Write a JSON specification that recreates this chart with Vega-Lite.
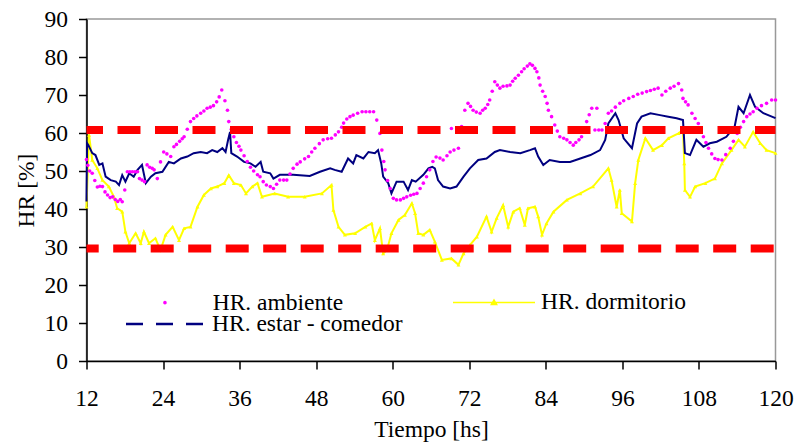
{
  "$schema": "https://vega.github.io/schema/vega-lite/v6.json",
  "width": 689,
  "height": 342,
  "autosize": {"type": "none"},
  "padding": {"left": 86.5, "top": 19, "right": 19.5, "bottom": 83},
  "background": "white",
  "config": {
    "font": "Liberation Serif",
    "view": {"stroke": "#999999", "strokeWidth": 1.5},
    "axis": {
      "grid": false,
      "domainColor": "black",
      "tickColor": "black",
      "labelColor": "black",
      "titleColor": "black",
      "labelFont": "Liberation Serif",
      "titleFont": "Liberation Serif",
      "labelFontSize": 23.5,
      "titleFontSize": 23.5,
      "titleFontWeight": "normal",
      "tickSize": 8,
      "domainWidth": 1.5,
      "tickWidth": 1.5
    },
    "legend": {
      "labelFont": "Liberation Serif",
      "labelFontSize": 23.5,
      "labelColor": "black",
      "labelLimit": 0,
      "padding": 0,
      "title": null
    }
  },
  "datasets": {
    "amb": [
      {"h":12,"v":53},{"h":12.2,"v":51.5},{"h":12.5,"v":50},{"h":12.9,"v":49.4},{"h":13.3,"v":47.5},{"h":13.7,"v":45.8},{"h":14.1,"v":46},{"h":14.5,"v":45.9},{"h":14.9,"v":44.5},{"h":15.3,"v":43.7},{"h":15.7,"v":43},{"h":16.1,"v":43.2},{"h":16.5,"v":42.5},{"h":16.9,"v":42},{"h":17.3,"v":42.5},{"h":17.6,"v":41.9},{"h":18,"v":45},{"h":18.4,"v":49.8},{"h":18.8,"v":49.8},{"h":19.2,"v":49.8},{"h":19.6,"v":49.8},{"h":20,"v":49.8},{"h":20.3,"v":48},{"h":20.7,"v":47.6},{"h":21.1,"v":47.2},{"h":21.5,"v":51.6},{"h":21.9,"v":51},{"h":22.3,"v":50.7},{"h":22.6,"v":50.3},{"h":23.1,"v":48},{"h":23.6,"v":52.4},{"h":24.1,"v":55},{"h":24.6,"v":54.5},{"h":25.2,"v":53.8},{"h":25.7,"v":56.4},{"h":26.1,"v":57},{"h":26.6,"v":57.8},{"h":27,"v":58.5},{"h":27.3,"v":59},{"h":27.8,"v":61},{"h":28.3,"v":63},{"h":28.8,"v":63.8},{"h":29.3,"v":64.5},{"h":29.9,"v":65.2},{"h":30.4,"v":65.8},{"h":30.9,"v":66.5},{"h":31.4,"v":66.8},{"h":31.9,"v":67.2},{"h":32.4,"v":68.2},{"h":32.8,"v":69.5},{"h":33.2,"v":71.3},{"h":33.7,"v":68.5},{"h":34.1,"v":66},{"h":34.3,"v":63},{"h":34.7,"v":61},{"h":35.1,"v":59},{"h":35.5,"v":57.5},{"h":35.9,"v":56.5},{"h":36.2,"v":55.5},{"h":36.7,"v":54},{"h":37.2,"v":52.5},{"h":37.7,"v":51},{"h":38.2,"v":50},{"h":38.8,"v":49},{"h":39.2,"v":48.5},{"h":39.7,"v":47.2},{"h":40.2,"v":46.3},{"h":40.8,"v":45.9},{"h":41.3,"v":45.4},{"h":41.8,"v":46.5},{"h":42.3,"v":47.6},{"h":42.9,"v":47.6},{"h":43.4,"v":47.6},{"h":43.9,"v":49.2},{"h":44.4,"v":50.7},{"h":45,"v":51.8},{"h":45.5,"v":52.4},{"h":46.2,"v":53.2},{"h":46.8,"v":53.8},{"h":47.3,"v":55},{"h":47.8,"v":56},{"h":48.5,"v":57.2},{"h":49.1,"v":58.2},{"h":49.8,"v":58.5},{"h":50.4,"v":58.6},{"h":51,"v":59.5},{"h":51.5,"v":60.3},{"h":52,"v":61.5},{"h":52.3,"v":62.6},{"h":52.8,"v":63.7},{"h":53.3,"v":64.3},{"h":53.8,"v":64.7},{"h":54.5,"v":65.2},{"h":55.2,"v":65.6},{"h":55.8,"v":65.6},{"h":56.4,"v":65.6},{"h":57,"v":65.6},{"h":57.5,"v":63.4},{"h":58,"v":59.9},{"h":58.3,"v":55.5},{"h":58.6,"v":52.5},{"h":58.8,"v":50.3},{"h":59.2,"v":47.5},{"h":59.6,"v":45.4},{"h":60.1,"v":42.8},{"h":60.6,"v":42.4},{"h":61.2,"v":42.4},{"h":61.7,"v":42.8},{"h":62.2,"v":43.2},{"h":62.8,"v":43.6},{"h":63.3,"v":43.9},{"h":63.8,"v":44.1},{"h":64.3,"v":45.4},{"h":64.8,"v":46.8},{"h":65.3,"v":48.5},{"h":65.8,"v":50.3},{"h":66.3,"v":52.5},{"h":66.8,"v":53.7},{"h":67.4,"v":53.4},{"h":67.9,"v":52.9},{"h":68.5,"v":54},{"h":69,"v":55},{"h":69.2,"v":61.2},{"h":69.6,"v":55.5},{"h":70.3,"v":56},{"h":70.8,"v":61.7},{"h":71.3,"v":66},{"h":71.8,"v":67.8},{"h":72.2,"v":67},{"h":72.6,"v":66},{"h":73.1,"v":65.5},{"h":73.7,"v":65.2},{"h":74.1,"v":66},{"h":74.5,"v":66.5},{"h":74.9,"v":67.5},{"h":75.2,"v":68.7},{"h":75.6,"v":71},{"h":76,"v":73.5},{"h":76.4,"v":72.6},{"h":76.8,"v":71.8},{"h":77.3,"v":72.3},{"h":77.9,"v":72.4},{"h":78.4,"v":72.6},{"h":78.8,"v":73.6},{"h":79.2,"v":74.4},{"h":79.7,"v":75.2},{"h":80.2,"v":76.1},{"h":80.6,"v":76.9},{"h":81.1,"v":77.6},{"h":81.5,"v":78.2},{"h":81.9,"v":77.8},{"h":82.3,"v":77},{"h":82.6,"v":76.1},{"h":82.9,"v":74.5},{"h":83.1,"v":72.6},{"h":83.5,"v":71},{"h":83.9,"v":69.6},{"h":84.2,"v":67.8},{"h":84.4,"v":66},{"h":84.9,"v":64.3},{"h":85.4,"v":62.1},{"h":85.8,"v":60.5},{"h":86.2,"v":59},{"h":86.8,"v":58.6},{"h":87.3,"v":58.2},{"h":87.8,"v":57.5},{"h":88.3,"v":56.8},{"h":88.7,"v":57.5},{"h":89.2,"v":58.2},{"h":89.6,"v":59},{"h":90,"v":61},{"h":90.4,"v":63},{"h":90.8,"v":64.8},{"h":91.2,"v":66.5},{"h":91.7,"v":60.8},{"h":92,"v":66.5},{"h":92.3,"v":60.8},{"h":92.8,"v":60.8},{"h":93.3,"v":62.5},{"h":93.8,"v":65.2},{"h":94.3,"v":65.8},{"h":94.9,"v":66.8},{"h":95.6,"v":67.8},{"h":96.2,"v":68.5},{"h":97,"v":69.1},{"h":97.7,"v":69.6},{"h":98.4,"v":70.2},{"h":99.1,"v":70.5},{"h":99.8,"v":70.9},{"h":100.4,"v":71.2},{"h":101,"v":71.5},{"h":101.6,"v":71.8},{"h":102.2,"v":70},{"h":102.8,"v":71},{"h":103.5,"v":71.8},{"h":104.1,"v":72.3},{"h":104.8,"v":73},{"h":105.3,"v":71.3},{"h":105.5,"v":69.1},{"h":105.9,"v":68.2},{"h":106.3,"v":67.4},{"h":106.9,"v":65.2},{"h":107.4,"v":63.8},{"h":107.9,"v":62.5},{"h":108.3,"v":60.8},{"h":108.7,"v":59},{"h":109.1,"v":57.5},{"h":109.5,"v":56},{"h":110,"v":54.5},{"h":110.5,"v":53.3},{"h":111,"v":53},{"h":111.6,"v":52.9},{"h":112.2,"v":54.3},{"h":112.9,"v":56},{"h":113.4,"v":57.8},{"h":114,"v":59.9},{"h":114.5,"v":61.5},{"h":115,"v":63},{"h":115.5,"v":64.3},{"h":116,"v":65},{"h":116.5,"v":65.6},{"h":117.1,"v":66.5},{"h":117.8,"v":67.2},{"h":118.6,"v":67.8},{"h":119.4,"v":68.7},{"h":120,"v":68.7}
    ],
    "est": [
      {"h":12,"v":42},{"h":12.05,"v":50},{"h":12.1,"v":57.3},{"h":12.3,"v":56.8},{"h":12.9,"v":54.7},{"h":13.4,"v":54.2},{"h":14,"v":51.6},{"h":14.5,"v":52},{"h":15,"v":48.5},{"h":15.8,"v":47.6},{"h":16.6,"v":47.2},{"h":17.1,"v":46.3},{"h":17.6,"v":48.9},{"h":18.1,"v":47.2},{"h":18.7,"v":49.4},{"h":19.4,"v":48.5},{"h":20,"v":50.3},{"h":20.7,"v":51.6},{"h":21.3,"v":46.8},{"h":22.1,"v":48.5},{"h":22.8,"v":49.4},{"h":23.9,"v":49.8},{"h":24.9,"v":52.4},{"h":25.7,"v":52},{"h":26.8,"v":53.3},{"h":27.8,"v":53.8},{"h":28.8,"v":54.7},{"h":29.9,"v":55},{"h":30.9,"v":54.7},{"h":31.7,"v":55.5},{"h":32.5,"v":55},{"h":33.3,"v":56},{"h":33.8,"v":55},{"h":34.2,"v":58.2},{"h":34.5,"v":60.3},{"h":34.7,"v":54.7},{"h":35.6,"v":53.8},{"h":36.7,"v":52.4},{"h":37.7,"v":52},{"h":38.5,"v":51.1},{"h":39.3,"v":52.4},{"h":39.7,"v":49.8},{"h":40.8,"v":49.4},{"h":41.3,"v":48},{"h":42.3,"v":49},{"h":44.4,"v":49},{"h":47,"v":48.7},{"h":48.6,"v":49.8},{"h":50.2,"v":50.7},{"h":50.9,"v":50.3},{"h":52,"v":49.8},{"h":53,"v":53.3},{"h":53.8,"v":52},{"h":54.3,"v":54.2},{"h":55.4,"v":53.3},{"h":56.2,"v":55},{"h":57.2,"v":54.7},{"h":57.7,"v":55.5},{"h":58.2,"v":52},{"h":58.5,"v":48.5},{"h":59.3,"v":46.8},{"h":59.8,"v":44.1},{"h":60.6,"v":47.2},{"h":61.7,"v":47.2},{"h":62.4,"v":45},{"h":63,"v":47.6},{"h":63.6,"v":47.2},{"h":64.8,"v":49},{"h":65.6,"v":50.7},{"h":66.2,"v":51.1},{"h":66.6,"v":50.7},{"h":67.1,"v":47.6},{"h":67.9,"v":45.9},{"h":69,"v":45.4},{"h":70,"v":45.9},{"h":71.1,"v":48.5},{"h":72.1,"v":50.7},{"h":73.4,"v":52.9},{"h":74.7,"v":53.3},{"h":76,"v":55},{"h":76.8,"v":55.5},{"h":78.4,"v":55},{"h":80,"v":54.7},{"h":81.5,"v":55.5},{"h":82.3,"v":56},{"h":82.8,"v":53.8},{"h":83.6,"v":51.6},{"h":84.6,"v":52.9},{"h":86.2,"v":52.4},{"h":87.8,"v":52.4},{"h":89.4,"v":53.3},{"h":91,"v":54.2},{"h":92.5,"v":55.5},{"h":93.3,"v":58.2},{"h":93.8,"v":62.5},{"h":94.9,"v":65.2},{"h":95.4,"v":63.4},{"h":96.2,"v":58.6},{"h":97.5,"v":56},{"h":98.3,"v":62.5},{"h":99,"v":64.3},{"h":100.4,"v":65.2},{"h":101.9,"v":64.7},{"h":103.2,"v":64.3},{"h":104.5,"v":63.9},{"h":105.5,"v":63.4},{"h":105.8,"v":54.7},{"h":106.6,"v":54.2},{"h":107.6,"v":58.2},{"h":108.7,"v":56.4},{"h":109.7,"v":57.3},{"h":110.8,"v":57.7},{"h":112.3,"v":59},{"h":113.6,"v":61.7},{"h":114.2,"v":66.9},{"h":115,"v":65.2},{"h":116,"v":70},{"h":116.8,"v":66.9},{"h":118.1,"v":65.2},{"h":120,"v":63.9}
    ],
    "dor": [
      {"h":12,"v":40.6},{"h":12.4,"v":59.5},{"h":12.9,"v":52.9},{"h":13.7,"v":50.7},{"h":14.5,"v":47.6},{"h":15.5,"v":45.9},{"h":16.3,"v":43.2},{"h":16.8,"v":40.2},{"h":17.6,"v":39.3},{"h":18.1,"v":34},{"h":18.7,"v":31},{"h":19.7,"v":33.6},{"h":20.5,"v":31},{"h":21,"v":34},{"h":21.8,"v":31},{"h":22.8,"v":32.3},{"h":23.6,"v":29.2},{"h":24.4,"v":33.2},{"h":25.5,"v":35.3},{"h":26.5,"v":31.8},{"h":27.3,"v":34.9},{"h":28.3,"v":35.3},{"h":29.4,"v":40.6},{"h":30.4,"v":43.7},{"h":31.5,"v":45.4},{"h":32.5,"v":45.9},{"h":33.6,"v":46.8},{"h":34.3,"v":48.9},{"h":35.1,"v":46.8},{"h":36.2,"v":46.3},{"h":37,"v":44.1},{"h":38,"v":45.9},{"h":38.8,"v":46.8},{"h":39.5,"v":43.2},{"h":41.5,"v":44.1},{"h":43.6,"v":43.2},{"h":46.2,"v":43.2},{"h":48.9,"v":44.1},{"h":50.4,"v":46.3},{"h":50.7,"v":39.7},{"h":51.5,"v":35.3},{"h":52.5,"v":33.2},{"h":54.1,"v":33.6},{"h":55.7,"v":35.3},{"h":56.7,"v":36.2},{"h":57.2,"v":31.8},{"h":58,"v":34.9},{"h":58.5,"v":28.3},{"h":59.1,"v":29.2},{"h":59.8,"v":33.6},{"h":60.9,"v":37.1},{"h":61.9,"v":38.4},{"h":63,"v":41.5},{"h":63.5,"v":38.9},{"h":64,"v":33.6},{"h":64.8,"v":33.2},{"h":65.8,"v":34.5},{"h":66.6,"v":31.4},{"h":67.7,"v":26.6},{"h":69.2,"v":27},{"h":70.3,"v":25.3},{"h":71.1,"v":28.3},{"h":72.1,"v":30.5},{"h":73.2,"v":32.7},{"h":74.7,"v":38},{"h":75.5,"v":34},{"h":76.3,"v":37.6},{"h":77.3,"v":41},{"h":78.1,"v":35.3},{"h":78.9,"v":39.3},{"h":79.9,"v":40.2},{"h":80.7,"v":35.8},{"h":81.2,"v":40.2},{"h":82.3,"v":40.6},{"h":82.8,"v":38},{"h":83.4,"v":33.2},{"h":84.1,"v":36.2},{"h":85.2,"v":39.3},{"h":87.3,"v":42.4},{"h":89.4,"v":44.1},{"h":91.4,"v":45.9},{"h":93.8,"v":50.7},{"h":94.3,"v":47.6},{"h":95.1,"v":40.6},{"h":95.6,"v":45},{"h":95.9,"v":38.9},{"h":97.5,"v":36.7},{"h":98,"v":46.8},{"h":98.5,"v":52.9},{"h":99.6,"v":58.6},{"h":100.8,"v":55.5},{"h":102.2,"v":56.8},{"h":103.2,"v":58.6},{"h":104.8,"v":59.9},{"h":105.5,"v":60.8},{"h":105.7,"v":52},{"h":105.8,"v":45},{"h":106.6,"v":43.2},{"h":107.4,"v":45.9},{"h":109,"v":46.8},{"h":110.5,"v":48},{"h":111.6,"v":52},{"h":113.1,"v":55.5},{"h":114.2,"v":58.2},{"h":115.2,"v":56.4},{"h":116.5,"v":60.3},{"h":117.6,"v":57.3},{"h":118.6,"v":55.5},{"h":120,"v":54.7}
    ]
  },
  "layer": [
    {
      "data": {"name": "dor"},
      "mark": {"type": "line", "strokeWidth": 2, "point": {"shape": "triangle-up", "size": 16, "filled": true}},
      "encoding": {
        "x": {"field": "h", "type": "quantitative", "scale": {"domain": [12, 120], "nice": false, "zero": false},
          "axis": {"values": [12, 24, 36, 48, 60, 72, 84, 96, 108, 120], "title": "Tiempo [hs]", "labelPadding": 17, "titlePadding": 8, "labelFlush": false, "labelOverlap": false}},
        "y": {"field": "v", "type": "quantitative", "scale": {"domain": [0, 90], "nice": false},
          "axis": {"values": [0, 10, 20, 30, 40, 50, 60, 70, 80, 90], "title": "HR [%]", "labelPadding": 11, "titlePadding": 6}},
        "color": {"datum": "HR. dormitorio", "scale": {"range": ["#FFFF00"]},
          "legend": {"orient": "none", "legendX": 365.5, "legendY": 241.4, "symbolType": "M-1,0L1,0M-0.065,0.05L0.065,0.05L0,-0.06Z", "symbolSize": 6724, "symbolStrokeWidth": 1.5, "symbolFillColor": "#FFFF00", "symbolStrokeColor": "#FFFF00", "labelOffset": 5,
            "encode": {"symbols": {"update": {"fill": {"value": "#FFFF00"}, "stroke": {"value": "#FFFF00"}}}}}}
      }
    },
    {
      "data": {"name": "est"},
      "mark": {"type": "line", "strokeWidth": 2},
      "encoding": {
        "x": {"field": "h", "type": "quantitative",
          "axis": {"values": [12, 24, 36, 48, 60, 72, 84, 96, 108, 120], "title": "Tiempo [hs]", "labelPadding": 17, "titlePadding": 8, "labelFlush": false, "labelOverlap": false}},
        "y": {"field": "v", "type": "quantitative",
          "axis": {"values": [0, 10, 20, 30, 40, 50, 60, 70, 80, 90], "title": "HR [%]", "labelPadding": 11, "titlePadding": 6}},
        "color": {"datum": "HR. estar - comedor", "scale": {"range": ["#000080"]},
          "legend": {"orient": "none", "legendX": 38, "legendY": 264.4, "symbolType": "stroke", "symbolSize": 6084, "symbolStrokeWidth": 2.5, "symbolDash": [17, 13], "labelOffset": 6.5}}
      }
    },
    {
      "data": {"name": "amb"},
      "mark": {"type": "point", "filled": true, "size": 13, "opacity": 1},
      "encoding": {
        "x": {"field": "h", "type": "quantitative",
          "axis": {"values": [12, 24, 36, 48, 60, 72, 84, 96, 108, 120], "title": "Tiempo [hs]", "labelPadding": 17, "titlePadding": 8, "labelFlush": false, "labelOverlap": false}},
        "y": {"field": "v", "type": "quantitative",
          "axis": {"values": [0, 10, 20, 30, 40, 50, 60, 70, 80, 90], "title": "HR [%]", "labelPadding": 11, "titlePadding": 6}},
        "color": {"datum": "HR. ambiente", "scale": {"range": ["#FF00FF"]},
          "legend": {"orient": "none", "legendX": 66.7, "legendY": 271.9, "symbolType": "circle", "symbolSize": 13, "labelOffset": 36}}
      }
    },
    {
      "data": {"values": [{}]},
      "mark": {"type": "rule", "color": "#FF0000", "strokeWidth": 8, "strokeDash": [23, 14.5], "strokeCap": "butt", "strokeDashOffset": 2.5},
      "encoding": {"y": {"datum": 60.8, "type": "quantitative",
          "axis": {"values": [0, 10, 20, 30, 40, 50, 60, 70, 80, 90], "title": "HR [%]", "labelPadding": 11, "titlePadding": 6}}}
    },
    {
      "data": {"values": [{}]},
      "mark": {"type": "rule", "color": "#FF0000", "strokeWidth": 8, "strokeDash": [23, 14.5], "strokeCap": "butt", "strokeDashOffset": 35.7},
      "encoding": {"y": {"datum": 29.6, "type": "quantitative",
          "axis": {"values": [0, 10, 20, 30, 40, 50, 60, 70, 80, 90], "title": "HR [%]", "labelPadding": 11, "titlePadding": 6}}}
    }
  ],
  "resolve": {"scale": {"color": "independent"}, "legend": {"color": "independent"}}
}
